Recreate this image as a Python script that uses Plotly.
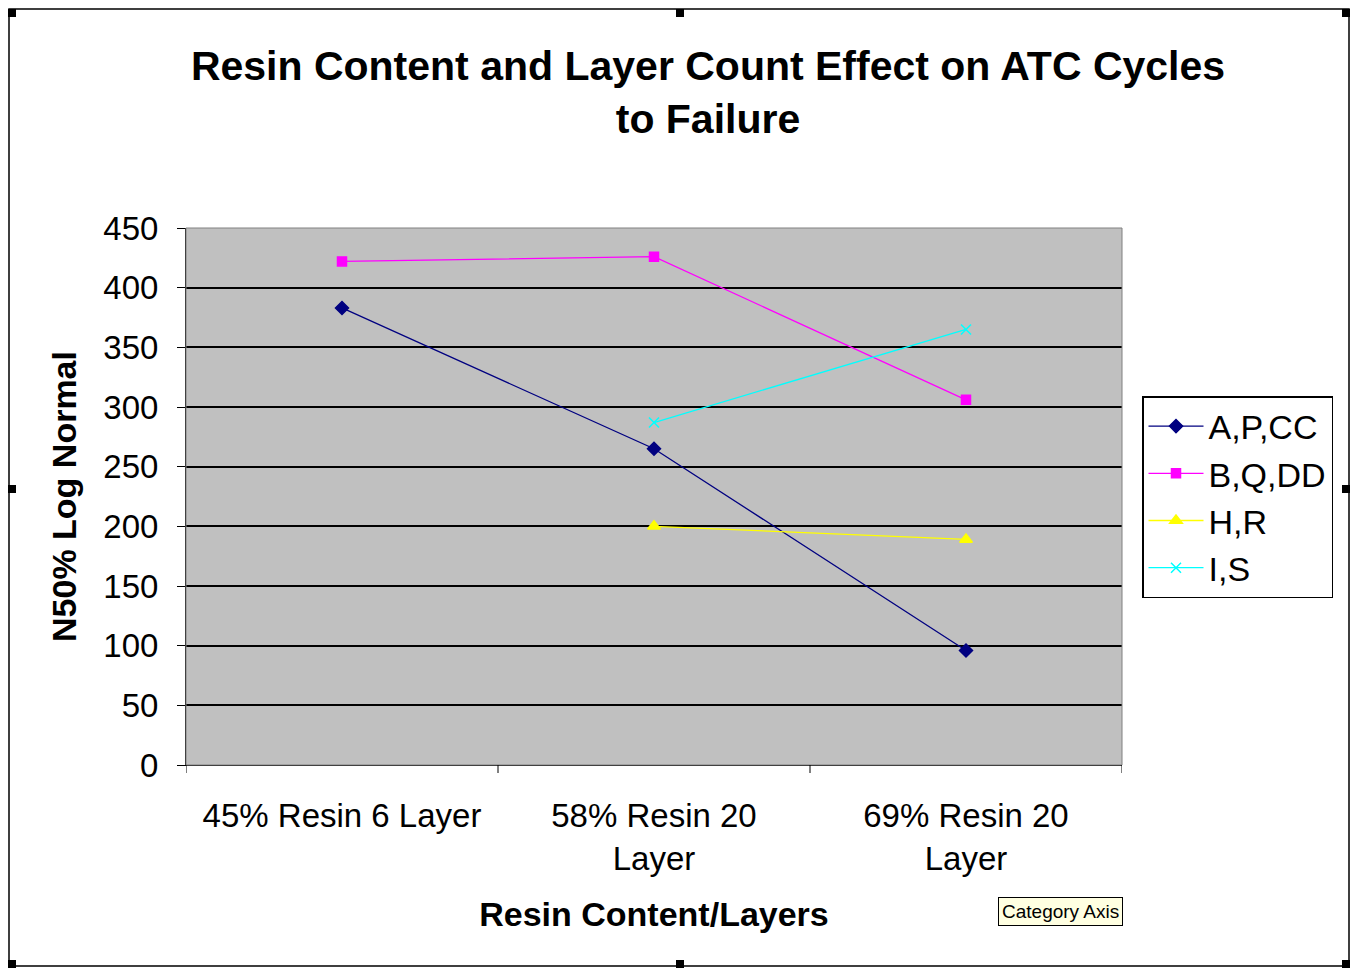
import plotly.graph_objects as go

# data
categories = ["45% Resin 6 Layer", "58% Resin 20<br>Layer", "69% Resin 20<br>Layer"]
apcc = [383, 265, 96]
bqdd = [422, 426, 306]
hr = [None, 200, 189]
i_s = [None, 287, 365]

series = [
    ("A,P,CC", apcc, "#000080", "diamond", 10),
    ("B,Q,DD", bqdd, "#FF00FF", "square", 9),
    ("H,R", hr, "#FFFF00", "triangle-up", 11),
    ("I,S", i_s, "#00FFFF", "x-thin-open", 10),
]

W, H = 1351, 969
L, R, T, B = 186, 1122, 228, 765
font = "Liberation Sans, Arial, sans-serif"


def px(xp):
    return (xp - L) / (R - L)


def py(yp):
    return (B - yp) / (B - T)


fig = go.Figure()
for name, vals, color, sym, size in series:
    fig.add_trace(go.Scatter(
        x=list(range(len(categories))), y=vals,
        mode="lines+markers", name=name,
        line=dict(color=color, width=1.3),
        marker=dict(symbol=sym, size=size, color=color,
                    line=dict(color=color, width=1.5)),
        connectgaps=False,
    ))

fig.update_xaxes(
    range=[-0.5, 2.5],
    tickvals=[0, 1, 2], ticktext=categories,
    showgrid=False, zeroline=False,
    showline=True, linecolor="black", linewidth=1,
    ticks="", ticklabelstandoff=21,
    tickfont=dict(size=33, color="black", family=font),
    title=dict(text="<b>Resin Content/Layers</b>",
               font=dict(size=34, color="black", family=font), standoff=26),
)
fig.update_yaxes(
    range=[0, 450], dtick=50,
    showgrid=True, gridcolor="black", gridwidth=1.6,
    zeroline=False, showline=True, linecolor="black", linewidth=1,
    ticks="outside", ticklen=8, tickcolor="black", ticklabelstandoff=12,
    tickfont=dict(size=33, color="black", family=font),
    title=dict(text="<b>N50% Log Normal</b>",
               font=dict(size=34, color="black", family=font), standoff=16),
)

shapes = [
    # plot area border
    dict(type="rect", xref="paper", yref="paper", x0=0, x1=1, y0=0, y1=1,
         line=dict(color="#808080", width=1)),
    # chart border
    dict(type="rect", xref="paper", yref="paper",
         x0=px(9), x1=px(1349), y0=py(966), y1=py(9),
         line=dict(color="black", width=1.5)),
]
# x tick marks at category boundaries, below the axis
for k in range(4):
    xv = -0.5 + k
    shapes.append(dict(type="line", xref="x", yref="paper", x0=xv, x1=xv,
                       y0=0, y1=-8 / (B - T), line=dict(color="black", width=1)))
# selection handles
for hx in (12, 680, 1346):
    for hy in (13, 489, 964):
        if hx == 680 and hy == 489:
            continue
        shapes.append(dict(type="rect", xref="paper", yref="paper",
                           x0=px(hx - 4), x1=px(hx + 4),
                           y0=py(hy + 4), y1=py(hy - 4),
                           fillcolor="black", line=dict(width=0)))

fig.update_layout(
    width=W, height=H,
    margin=dict(l=L, r=W - R, t=T, b=H - B),
    paper_bgcolor="white", plot_bgcolor="#C0C0C0",
    title=dict(text="<b>Resin Content and Layer Count Effect on ATC Cycles<br>to Failure</b>",
               x=708 / W, xanchor="center", y=1 - 80 / H, yanchor="middle",
               font=dict(size=41, color="black", family=font)),
    legend=dict(x=px(1142), xanchor="left",
                y=py(396), yanchor="top",
                bordercolor="black", borderwidth=1.5, bgcolor="white",
                font=dict(size=34, color="black", family=font),
                tracegroupgap=0, itemwidth=55),
    shapes=shapes,
    annotations=[dict(text="Category Axis", xref="paper", yref="paper",
                      x=px(1060), y=py(911), xanchor="center", yanchor="middle",
                      showarrow=False, bgcolor="#FFFFE1", bordercolor="black",
                      borderwidth=1, borderpad=3,
                      font=dict(size=19, color="black", family=font))],
    showlegend=True,
)

fig.write_html("out.html", config={"displayModeBar": False},
               post_script="document.body.style.margin='0';")
